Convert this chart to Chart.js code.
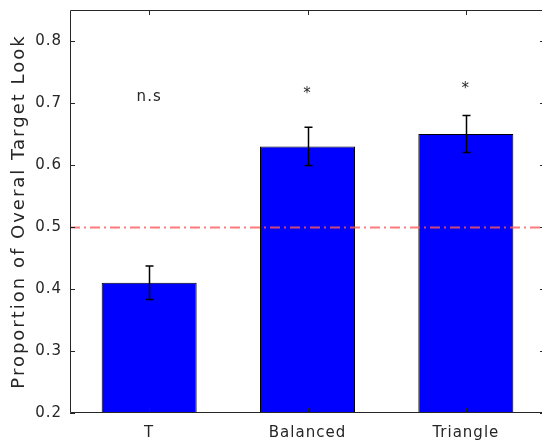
<!DOCTYPE html>
<html>
<head>
<meta charset="utf-8">
<script src="https://cdn.jsdelivr.net/npm/chart.js@4"></script>
<style>
  html, body { margin: 0; padding: 0; overflow: hidden; background: #fff; }
  #wrap { width: 542px; height: 445px; overflow: hidden; }
</style>
</head>
<body>
<div id="wrap"><canvas id="chart" width="556" height="445"></canvas></div>
<script>
const categories = ['T', 'Balanced', 'Triangle'];
const proportions = [0.41, 0.63, 0.65];
const errors = [0.027, 0.031, 0.030];
const marks = ['n.s', '*', '*'];
const markY = [0.71, 0.714, 0.722];
const chanceLevel = 0.5;
const yTicks = [0.2, 0.3, 0.4, 0.5, 0.6, 0.7, 0.8];
const yTitle = 'Proportion of Overal Target Look';

const axisColor = '#262626';

// wider letter spacing like the matlab export
const spacing = {
    id: 'spacing',
    beforeUpdate(chart) { chart.ctx.letterSpacing = '1px'; },
    beforeDraw(chart) { chart.ctx.letterSpacing = '1px'; }
};

// matlab style box, inward ticks, error bars, chance line and labels
const extras = {
    id: 'extras',
    afterDatasetsDraw(chart) {
        const ctx = chart.ctx;
        const area = chart.chartArea;
        const x = chart.scales.x;
        const y = chart.scales.y;
        ctx.save();

        // error bars
        ctx.strokeStyle = '#000';
        ctx.lineWidth = 1.5;
        proportions.forEach((v, i) => {
            const cx = Math.round(x.getPixelForValue(i)) + 0.5;
            const top = y.getPixelForValue(v + errors[i]);
            const bot = y.getPixelForValue(v - errors[i]);
            ctx.beginPath();
            ctx.moveTo(cx, top); ctx.lineTo(cx, bot);
            ctx.moveTo(cx - 4, top); ctx.lineTo(cx + 4, top);
            ctx.moveTo(cx - 4, bot); ctx.lineTo(cx + 4, bot);
            ctx.stroke();
        });

        // chance line
        const ly = Math.round(y.getPixelForValue(chanceLevel)) + 0.5;
        ctx.strokeStyle = 'rgba(255, 90, 90, 0.8)';
        ctx.lineWidth = 2;
        ctx.setLineDash([10, 4, 2, 4]);
        ctx.beginPath();
        ctx.moveTo(area.left, ly);
        ctx.lineTo(area.right, ly);
        ctx.stroke();
        ctx.setLineDash([]);

        // box (right side falls outside the picture)
        const l = area.left + 0.5, t = area.top + 0.5, b = area.bottom - 0.5;
        ctx.strokeStyle = axisColor;
        ctx.lineWidth = 1;
        ctx.beginPath();
        ctx.moveTo(area.right, t); ctx.lineTo(l, t); ctx.lineTo(l, b); ctx.lineTo(area.right, b);
        ctx.stroke();

        // inward ticks
        ctx.beginPath();
        yTicks.forEach(v => {
            const py = Math.round(y.getPixelForValue(v)) + 0.5;
            ctx.moveTo(area.left, py); ctx.lineTo(area.left + 5, py);
            ctx.moveTo(area.right, py); ctx.lineTo(area.right - 5, py);
        });
        categories.forEach((c, i) => {
            const px = Math.round(x.getPixelForValue(i)) + 0.5;
            ctx.moveTo(px, area.bottom); ctx.lineTo(px, area.bottom - 5);
            ctx.moveTo(px, area.top); ctx.lineTo(px, area.top + 5);
        });
        ctx.stroke();

        // significance labels
        ctx.fillStyle = axisColor;
        ctx.font = '15px "DejaVu Sans"';
        ctx.textAlign = 'center';
        ctx.textBaseline = 'middle';
        marks.forEach((m, i) => {
            ctx.fillText(m, x.getPixelForValue(i), y.getPixelForValue(markY[i]));
        });

        // y title
        ctx.letterSpacing = '2px';
        ctx.font = '18px "DejaVu Sans"';
        ctx.translate(19, (area.top + area.bottom) / 2);
        ctx.rotate(-Math.PI / 2);
        ctx.fillText(yTitle, 0, 0);

        ctx.restore();
    }
};

const ctx = document.getElementById('chart').getContext('2d');

new Chart(ctx, {
    type: 'bar',
    data: {
        labels: categories,
        datasets: [{
            data: proportions,
            backgroundColor: '#0000ff',
            borderColor: '#000',
            borderWidth: 1,
            borderSkipped: false,
            categoryPercentage: 1,
            barPercentage: 0.6
        }]
    },
    options: {
        responsive: false,
        animation: false,
        devicePixelRatio: 1,
        layout: {
            padding: { top: 10, right: 11, left: 0, bottom: 0 }
        },
        scales: {
            x: {
                grid: { display: false, drawTicks: false },
                border: { display: false },
                ticks: {
                    color: axisColor,
                    padding: 11,
                    font: { family: 'DejaVu Sans', size: 15 },
                    maxRotation: 0
                },
                afterFit(scale) {
                    scale.height = 32;
                    scale.paddingLeft = 0;
                    scale.paddingRight = 0;
                }
            },
            y: {
                min: 0.2,
                max: 0.85,
                grid: { display: false, drawTicks: false },
                border: { display: false },
                ticks: {
                    color: axisColor,
                    padding: 8,
                    font: { family: 'DejaVu Sans', size: 15 },
                    callback: v => v.toFixed(1)
                },
                afterBuildTicks(scale) {
                    scale.ticks = yTicks.map(v => ({ value: v }));
                },
                afterFit(scale) {
                    scale.width = 70;
                    scale.paddingTop = 0;
                    scale.paddingBottom = 0;
                }
            }
        },
        plugins: {
            legend: { display: false },
            tooltip: { enabled: false }
        }
    },
    plugins: [spacing, extras]
});
</script>
</body>
</html>
